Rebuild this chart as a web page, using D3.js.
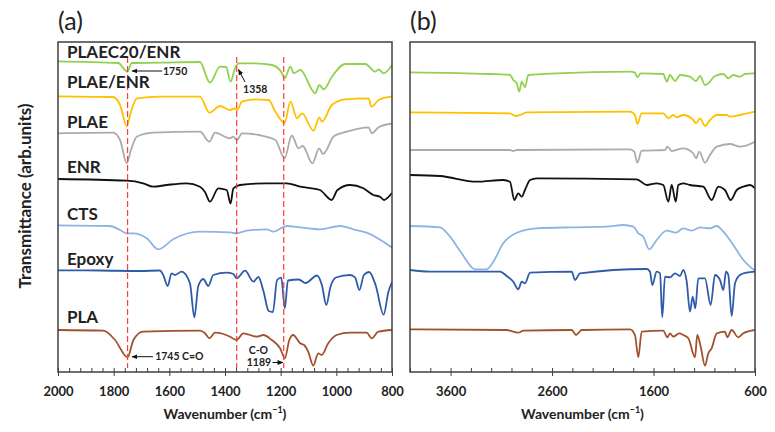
<!DOCTYPE html>
<html><head><meta charset="utf-8">
<script src="https://cdn.jsdelivr.net/npm/d3@7"></script>
<style>
html,body{margin:0;padding:0;background:#fff;}
svg{display:block;font-family:Lato, "Liberation Sans", sans-serif;}
</style></head>
<body><svg id="chart" width="775" height="432"></svg>
<script>
// ---------- DATA (wavenumber cm-1, transmittance in arbitrary offset units) ----------
const seriesNames = ["PLAEC20/ENR", "PLAE/ENR", "PLAE", "ENR", "CTS", "Epoxy", "PLA"];
const seriesColors = ["#92D050", "#FFC000", "#ABABAB", "#111111", "#8EB4E3", "#2F5CA8", "#A0522D"];
const labelValues = [314, 284, 244, 199, 152, 107, 49];

// Panel (a): 2000 - 800 cm-1
const plaec20EnrA = [[2000,310.7],[1784,309],[1750,300.3],[1735,309],[1634,309.3],[1490,310],[1454,289.3],[1418,305.3],[1396,305],[1380,290.3],[1364,303.7],[1351,308.7],[1292,308.7],[1231,307],[1195,298.7],[1186,293.7],[1165,305.3],[1153,298.7],[1129,302],[1087,282],[1076,278.7],[1061,287],[1045,282.7],[1016,295.3],[968,308],[896,308],[860,300.3],[848,302.7],[830,298.7],[800,307]];
const plaeEnrA = [[2000,275.7],[1802,275],[1777,267],[1753,246],[1738,260],[1717,273.7],[1634,275.3],[1490,275.3],[1456,259.3],[1418,266],[1382,262],[1364,263.7],[1357,262],[1339,270.3],[1291,272.7],[1243,272],[1219,260.3],[1186,249],[1165,270.3],[1141,253.7],[1123,258.7],[1082,241.3],[1061,254.7],[1052,250.3],[1016,267],[968,272.7],[884,273.7],[874,265.3],[848,272],[800,275.7]];
const plaeA = [[2000,238.7],[1802,239.3],[1777,232],[1753,208.7],[1738,222],[1717,235.3],[1659,239.3],[1490,240.3],[1456,230.3],[1436,239.3],[1382,233.7],[1371,235.3],[1357,232],[1339,238.7],[1279,237],[1219,232],[1186,213.7],[1160,236.5],[1136,223.7],[1121,226],[1086,208.7],[1062,223.7],[1048,218],[1008,236],[963,240.3],[884,244.7],[873,238.7],[848,244.7],[800,248.5]];
const enrA = [[2000,193],[1753,191.3],[1694,188.7],[1658,185.3],[1609,187],[1538,188.7],[1490,185.3],[1472,180],[1454,170.3],[1424,183.7],[1394,182],[1380,168.5],[1370,183.7],[1346,187],[1250,188.7],[1178,188.7],[1130,185.3],[1059,182],[1017,172],[996,182],[951,187],[903,183.7],[867,177],[843,175.3],[829,172],[818,173.7],[800,179.3]];
const ctsA = [[2000,146.7],[1813,146],[1777,142],[1753,138.7],[1729,138.7],[1681,133.7],[1640,122.7],[1586,132.7],[1490,140.3],[1382,139.7],[1358,138.7],[1322,141.3],[1250,142.7],[1226,140.3],[1178,146],[1130,144.7],[1059,142.7],[987,146],[939,142.7],[891,139.3],[800,124.3]];
const epoxyA = [[2000,101.7],[1849,101.5],[1705,101],[1634,101.5],[1622,97],[1606,86],[1592,98.7],[1580,97],[1556,100.3],[1526,88.7],[1510,54.7],[1496,86],[1478,93],[1460,86],[1442,97],[1394,99.3],[1370,98],[1358,93.7],[1328,101.3],[1298,90.3],[1280,95],[1262,81],[1243,61],[1228,60],[1213,92],[1198,94.3],[1185,63.7],[1174,91.5],[1135,92.5],[1111,89],[1069,96.5],[1052,87],[1036,67],[1021,85.3],[1001,94.5],[951,97],[933,94.7],[917,82],[901,97],[882,100],[859,87],[830,57.3],[813,80],[800,90]];
const plaA = [[2000,42],[1837,41.3],[1795,32],[1750,14.7],[1729,32],[1694,40.3],[1490,41.3],[1472,38.7],[1456,33.7],[1436,39.3],[1406,38],[1382,35.3],[1359,32],[1334,38.7],[1286,35.3],[1262,37],[1232,32],[1202,23.7],[1185,13.7],[1169,32],[1155,37],[1130,28.7],[1116,27],[1101,20.3],[1083,6.3],[1065,18.7],[1053,17],[1029,28.7],[999,37],[951,39.3],[891,39.3],[873,33.7],[849,40.3],[800,42]];

// Panel (b): 4000 - 600 cm-1
const plaec20EnrB = [[4000,299.7],[3212,298],[3015,297],[2982,292],[2948,288.7],[2923,280.3],[2899,290.3],[2867,284.7],[2834,297],[2554,298.7],[1832,300.3],[1783,299.3],[1760,294.7],[1726,298.7],[1504,298],[1470,290.3],[1438,297],[1388,291],[1339,297],[1241,295.3],[1181,291],[1142,296],[1093,287],[1060,288.7],[994,296],[912,298],[863,293.7],[814,297],[748,295.3],[699,298],[600,298.7]];
const plaeEnrB = [[4000,259.7],[3015,258.7],[2955,256],[2899,257.7],[2850,259.7],[1832,260.3],[1783,257],[1760,248],[1717,258.7],[1504,258.7],[1454,253.7],[1405,257],[1372,254.7],[1307,257],[1208,252],[1181,248.7],[1142,253.7],[1093,246],[1044,252],[977,257],[879,257],[846,255.3],[748,257],[600,260.3]];
const plaeB = [[4000,222],[3015,222],[2982,221],[2948,222],[1832,222.7],[1790,220.3],[1760,209.3],[1717,221.3],[1487,222],[1464,225.3],[1421,221],[1307,223.7],[1208,218.7],[1181,213.7],[1149,220.3],[1093,209.3],[1044,217],[977,225.3],[846,228],[748,225.3],[600,230.3]];
const enrB = [[4000,197],[3704,196],[3343,190.3],[3081,192],[3015,190.3],[2972,172],[2933,178.7],[2899,175.3],[2867,182],[2817,192],[2751,193.7],[1766,192.7],[1667,187],[1569,188.7],[1504,187],[1454,170.3],[1421,187],[1381,170.3],[1356,187],[1307,188.7],[1241,187],[1110,185.3],[1027,172],[962,185.3],[896,182],[840,172],[780,182],[715,185.3],[649,187],[600,183.7]];
const ctsB = [[4000,146],[3704,144.7],[3606,135.3],[3491,118.7],[3359,102.7],[3244,102.7],[3179,110.3],[3081,128.7],[2948,139.3],[2751,143.7],[2391,144.7],[2062,145.3],[1898,147],[1799,145.3],[1750,138.7],[1701,135.3],[1642,122.7],[1569,132],[1470,141.3],[1379,139.3],[1307,143.7],[1224,141.3],[1142,144.7],[1044,143.7],[977,146],[912,140.3],[814,127],[715,112],[600,101.3]];
const epoxyB = [[4000,102],[3803,100.3],[3113,100.3],[3047,96],[2982,90.3],[2933,82.7],[2899,90.3],[2867,88.7],[2817,99.3],[2406,100.3],[2374,92],[2325,98.7],[1667,103],[1635,100.3],[1612,87],[1569,100.3],[1536,98.7],[1514,54.7],[1487,95.3],[1438,94.7],[1388,98.7],[1339,96],[1307,102],[1273,90.3],[1241,60.3],[1214,75.3],[1188,63.7],[1159,93.7],[1093,93.7],[1037,67],[994,97],[945,92],[912,82],[886,100.3],[863,97],[830,56],[797,88.7],[748,97],[682,99.3],[600,100.3]];
const plaB = [[4000,42.7],[3047,42],[2933,39.3],[2883,41.3],[2406,42],[2364,37],[2308,42],[1832,42.7],[1783,37],[1750,14.7],[1717,40.3],[1504,41.3],[1464,34.7],[1438,38.7],[1405,35.3],[1346,38.7],[1307,37],[1257,33.7],[1191,14.7],[1169,37],[1135,25.3],[1093,6.3],[1060,18.7],[1027,23.7],[977,38.7],[896,40.3],[873,34.7],[830,42],[765,34.7],[715,38.7],[600,42]];

// Axes / ticks
const majorTicksA = [2000, 1800, 1600, 1400, 1200, 1000, 800];
const minorTicksA = d3.range(2000, 799, -40);
const majorTicksB = [3600, 2600, 1600, 600];
const minorTicksB = d3.range(4000, 599, -200);

// Reference lines and annotations (panel a)
const refLines = [1750, 1358, 1189];
const refLineRange = [4, 315];
const annotations = [
  {text: "1750", at: [1623, 297], from: [1626, 301], to: [1734, 301], anchor: "start"},
  {text: "1358", at: [1335, 279], from: [1328, 290], to: [1351.5, 302.5], anchor: "start"},
  {text: "1745 C=O", at: [1651, 12], from: [1659, 15.3], to: [1734, 15.3], anchor: "start"},
  {text: "1189", at: [1278, 6], from: [1229, 9.5], to: [1192, 9.5], anchor: "middle"}
];
const extraTexts = [{text: "C-O", at: [1280, 18]}];

// ---------- DRAW ----------
const svg = d3.select("#chart");
const plotTop = 42, plotBottom = 372;
const y = d3.scaleLinear().domain([0, 330]).range([plotBottom, plotTop]);
const xA = d3.scaleLinear().domain([2000, 800]).range([58, 392]);
const xB = d3.scaleLinear().domain([4000, 600]).range([410, 755]);

const defs = svg.append("defs");
defs.append("marker").attr("id", "arr").attr("viewBox", "0 0 10 10")
  .attr("refX", 9).attr("refY", 5).attr("markerWidth", 6).attr("markerHeight", 6)
  .attr("orient", "auto-start-reverse")
  .append("path").attr("d", "M0,1 L10,5 L0,9 Z").attr("fill", "#111");

function panel(x, data, majors, minors, label) {
  const [x0, x1] = x.range();
  const g = svg.append("g");
  const id = "clip" + label.replace(/\W/g, "");
  defs.append("clipPath").attr("id", id).append("rect")
    .attr("x", x0).attr("y", plotTop).attr("width", x1 - x0).attr("height", plotBottom - plotTop);
  const line = d3.line().x(d => x(d[0])).y(d => y(d[1])).curve(d3.curveMonotoneX);
  const lg = g.append("g").attr("clip-path", `url(#${id})`);
  data.forEach((s, i) => {
    lg.append("path").datum(s).attr("d", line)
      .attr("fill", "none").attr("stroke", seriesColors[i])
      .attr("stroke-width", 1.8).attr("stroke-linejoin", "round");
  });
  // minor ticks (inside)
  g.append("g").attr("transform", `translate(0,${plotBottom})`)
    .call(d3.axisBottom(x).tickValues(minors).tickSize(-4).tickFormat(""))
    .call(a => a.select(".domain").remove())
    .call(a => a.selectAll("line").attr("stroke", "#404040").attr("stroke-width", 1));
  // major ticks (crossing)
  g.append("g").attr("transform", `translate(0,${plotBottom})`)
    .call(d3.axisBottom(x).tickValues(majors).tickSize(4).tickPadding(11).tickFormat(d3.format("d")))
    .call(a => a.select(".domain").remove())
    .call(a => a.selectAll("line").attr("stroke", "#404040").attr("stroke-width", 1))
    .call(a => a.selectAll("text").attr("font-family", "Lato, sans-serif")
      .attr("font-size", 13).attr("font-weight", "bold").attr("fill", "#222"));
  // frame
  g.append("rect").attr("x", x0).attr("y", plotTop).attr("width", x1 - x0).attr("height", plotBottom - plotTop)
    .attr("fill", "none").attr("stroke", "#404040").attr("stroke-width", 1.5);
  // x title
  const t = g.append("text").attr("x", (x0 + x1) / 2).attr("y", 419).attr("text-anchor", "middle")
    .attr("font-size", 14).attr("font-weight", "bold").attr("fill", "#222");
  t.append("tspan").text("Wavenumber (cm");
  t.append("tspan").text("\u22121").attr("font-size", 9).attr("dy", -6);
  t.append("tspan").text(")").attr("dy", 6);
  // panel label
  g.append("text").attr("x", x0).attr("y", 30).text(label)
    .attr("font-size", 25).attr("fill", "#222");
  return g;
}

const gA = panel(xA, [plaec20EnrA, plaeEnrA, plaeA, enrA, ctsA, epoxyA, plaA], majorTicksA, minorTicksA, "(a)");
panel(xB, [plaec20EnrB, plaeEnrB, plaeB, enrB, ctsB, epoxyB, plaB], majorTicksB, minorTicksB, "(b)");

// reference dashed lines
gA.selectAll("line.ref").data(refLines).enter().append("line").attr("class", "ref")
  .attr("x1", d => xA(d)).attr("x2", d => xA(d))
  .attr("y1", y(refLineRange[1])).attr("y2", y(refLineRange[0]))
  .attr("stroke", "#FF3B3B").attr("stroke-width", 1.2).attr("stroke-dasharray", "6,3");

// series labels
gA.selectAll("text.lbl").data(seriesNames).enter().append("text").attr("class", "lbl")
  .attr("x", 67).attr("y", (d, i) => y(labelValues[i])).text(d => d)
  .attr("font-size", 17).attr("font-weight", "bold").attr("fill", "#222");

// annotations
annotations.forEach(a => {
  gA.append("line").attr("x1", xA(a.from[0])).attr("y1", y(a.from[1]))
    .attr("x2", xA(a.to[0])).attr("y2", y(a.to[1]))
    .attr("stroke", "#111").attr("stroke-width", 1).attr("marker-end", "url(#arr)");
  gA.append("text").attr("x", xA(a.at[0])).attr("y", y(a.at[1])).text(a.text)
    .attr("text-anchor", a.anchor).attr("font-size", 10.5).attr("font-weight", "bold").attr("fill", "#222");
});
extraTexts.forEach(a => {
  gA.append("text").attr("x", xA(a.at[0])).attr("y", y(a.at[1])).text(a.text)
    .attr("text-anchor", "middle").attr("font-size", 10.5).attr("font-weight", "bold").attr("fill", "#222");
});

// y title
svg.append("text").attr("transform", "translate(31,196) rotate(-90)")
  .attr("text-anchor", "middle").text("Transmittance (arb.units)")
  .attr("font-size", 17).attr("font-weight", "bold").attr("fill", "#222");
</script></body></html>
